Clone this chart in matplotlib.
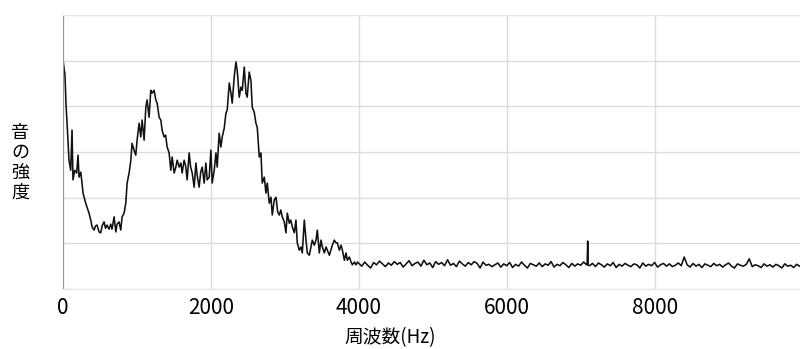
import numpy as np
import matplotlib
matplotlib.use("Agg")
import matplotlib.pyplot as plt

plt.rcParams['font.family'] = ['Noto Sans CJK JP', 'DejaVu Sans']

# Low-frequency part (0 - 4000 Hz): frequency (Hz) and intensity (arbitrary units)
peak_freq = [0, 27, 41, 58, 81, 104, 122, 135, 158, 185, 203, 217, 240, 257, 271, 307, 325, 352, 375, 393,
             420, 440, 460, 487, 510, 528, 555, 575, 596, 623, 646, 663, 691, 714, 731, 758, 781, 799, 826, 849,
             867, 894, 917, 934, 961, 984, 1002, 1029, 1052, 1070, 1097, 1120, 1137, 1164, 1187, 1205, 1232, 1255, 1273, 1300,
             1323, 1340, 1367, 1388, 1408, 1435, 1458, 1476, 1503, 1526, 1544, 1571, 1594, 1611, 1638, 1659, 1679, 1706, 1726, 1747,
             1774, 1797, 1814, 1841, 1862, 1882, 1909, 1932, 1950, 1977, 2000, 2017, 2045, 2068, 2085, 2112, 2135, 2153, 2180, 2203,
             2221, 2248, 2271, 2288, 2315, 2338, 2356, 2383, 2406, 2424, 2451, 2474, 2491, 2518, 2541, 2559, 2586, 2609, 2627, 2654,
             2677, 2694, 2722, 2744, 2762, 2789, 2812, 2830, 2857, 2880, 2904, 2925, 2945, 2965, 2992, 3015, 3033, 3060, 3080, 3101,
             3128, 3150, 3168, 3195, 3218, 3236, 3263, 3286, 3304, 3331, 3351, 3371, 3398, 3421, 3439, 3466, 3489, 3507, 3534, 3557,
             3575, 3602, 3622, 3642, 3669, 3692, 3710, 3737, 3760, 3778, 3805, 3827, 3845, 3872, 3895, 3913, 3940, 3963, 3981]
peak_vals = [50.1, 46.8, 40.3, 35.4, 28.2, 26.0, 34.8, 23.9, 26.0, 25.4, 29.3, 24.5, 25.6, 23.2, 21.0, 18.8, 17.9, 16.6, 15.1, 13.6,
             12.9, 13.8, 14.0, 12.5, 12.3, 13.8, 14.7, 13.3, 14.0, 13.1, 14.2, 13.1, 15.8, 12.5, 14.2, 14.7, 12.9, 15.8, 16.6, 18.8,
             23.2, 25.4, 28.2, 31.9, 30.4, 29.3, 32.6, 36.3, 33.3, 37.0, 32.6, 39.8, 41.4, 37.6, 43.5, 42.9, 43.5, 41.4, 40.7, 37.6,
             37.0, 34.8, 33.3, 33.7, 31.1, 29.8, 26.0, 28.9, 25.4, 26.7, 28.2, 26.7, 27.6, 25.4, 28.2, 26.9, 23.9, 29.8, 26.7, 25.4,
             22.3, 27.6, 24.9, 22.3, 25.6, 26.7, 23.2, 27.6, 23.9, 24.5, 30.4, 23.2, 26.0, 29.8, 26.7, 34.1, 31.1, 33.3, 35.2, 38.5,
             39.2, 45.1, 42.9, 40.7, 46.4, 49.7, 47.9, 42.0, 44.2, 43.5, 48.6, 42.9, 42.0, 47.5, 45.7, 39.8, 38.7, 36.3, 35.4, 28.9,
             29.8, 23.2, 24.5, 21.0, 23.2, 18.8, 20.1, 16.2, 19.5, 20.1, 16.8, 16.2, 17.3, 15.8, 14.7, 12.3, 16.6, 14.4, 15.1, 13.6,
             12.3, 15.1, 10.1, 8.5, 9.2, 7.9, 15.1, 10.7, 7.9, 7.4, 9.0, 10.7, 9.6, 10.7, 12.9, 7.9, 10.7, 9.2, 7.9, 9.2,
             8.5, 7.4, 8.5, 9.6, 10.7, 10.1, 10.1, 8.5, 9.6, 8.5, 6.3, 7.9, 6.3, 7.0, 5.9, 5.3, 5.9, 5.3, 5.9]

# High-frequency part (4000 - 9960 Hz, 40 Hz steps)
tail_start_hz = 4000
tail_step_hz = 40
tail_vals = [5.6, 5.0, 5.9, 5.2, 4.6, 5.8, 5.3, 6.1, 5.5, 4.9,
             5.7, 5.2, 6.0, 5.4, 5.8, 4.8, 5.5, 6.2, 5.1, 5.6,
             5.9, 5.0, 6.3, 5.3, 5.7, 4.7, 6.0, 5.4, 5.8, 5.1,
             6.4, 5.2, 5.6, 4.9, 6.1, 5.5, 5.0, 5.8, 5.3, 6.0,
             5.6, 4.6, 5.9, 5.2, 5.4, 4.9, 5.3, 5.7, 4.8, 5.5,
             5.1, 5.8, 4.7, 5.4, 5.0, 5.9, 5.2, 4.6, 5.6, 5.3,
             5.0, 5.7, 4.9, 5.5, 5.2, 6.0, 4.8, 5.4, 5.1, 5.8,
             5.3, 4.7, 5.6, 5.0, 5.5, 5.2, 5.9, 5.3, 5.1, 5.6,
             4.9, 5.7, 5.3, 4.8, 5.5, 5.1, 5.8, 4.7, 5.4, 5.0,
             5.6, 5.2, 4.9, 5.5, 5.3, 4.6, 5.7, 5.0, 5.4, 5.1,
             5.8, 4.8, 5.3, 5.6, 5.0, 5.5, 4.9, 5.2, 5.7, 5.1,
             7.0, 5.3, 4.8, 5.6, 5.0, 5.4, 4.7, 5.5, 5.2, 4.9,
             5.6, 5.1, 5.4, 4.8, 5.3, 5.7, 5.0, 4.6, 5.5, 5.2,
             5.0, 5.4, 6.6, 4.9, 5.3, 5.1, 4.7, 5.5, 5.0, 5.3,
             4.8, 5.4, 5.1, 4.6, 5.5, 5.0, 5.2, 4.7, 5.4, 5.0]

# Narrow spike near 7100 Hz
spike_freq = [7088, 7095, 7102]
spike_vals = [5.4, 10.5, 5.2]

x_ticks = [0, 2000, 4000, 6000, 8000]
x_label = "周波数(Hz)"
y_label = "音\nの\n強\n度"

tail_freq = tail_start_hz + tail_step_hz * np.arange(len(tail_vals))
freq = np.concatenate([np.array(peak_freq, float), tail_freq, np.array(spike_freq, float)])
vals = np.concatenate([np.array(peak_vals, float), np.array(tail_vals, float), np.array(spike_vals, float)])
order = np.argsort(freq, kind='stable')
freq, vals = freq[order], vals[order]

fig = plt.figure(figsize=(8.0, 3.49), dpi=100)
ax = fig.add_axes([63 / 800, (349 - 289) / 349, 737 / 800, (289 - 15) / 349])

ax.plot(freq, vals, color='#111111', lw=1.15)
ax.set_xlim(0, 9966)
ax.set_ylim(0, 60)
ax.set_xticks(x_ticks)
ax.set_xticklabels([str(t) for t in x_ticks], fontsize=15)
ax.set_yticks(np.arange(0, 61, 10))
ax.set_yticklabels([])
ax.tick_params(axis='both', length=0)
ax.tick_params(axis='x', pad=6)
ax.grid(True, color='#dcdcdc', lw=1.0)
ax.set_axisbelow(True)

for side in ['top', 'bottom']:
    ax.spines[side].set_color('#e6e6e6')
ax.spines['right'].set_visible(False)
ax.spines['left'].set_color('#9a9a9a')

fig.text(390 / 800, (349 - 338) / 349, x_label, ha='center', va='center', fontsize=13.5)
fig.text(20 / 800, (349 - 163) / 349, y_label, ha='center', va='center', fontsize=13,
         linespacing=1.15)

fig.savefig("out.png", dpi=100)
